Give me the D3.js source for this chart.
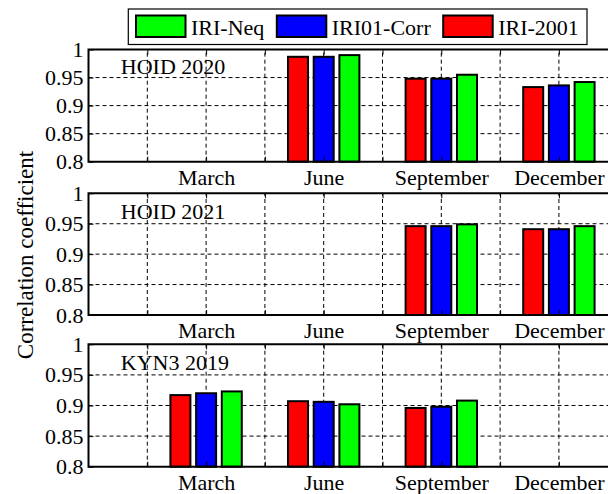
<!DOCTYPE html>
<html>
<head>
<meta charset="utf-8">
<script src="https://cdn.jsdelivr.net/npm/d3@7"></script>
<style>
  html, body { margin: 0; padding: 0; background: #fff; }
  svg { display: block; font-family: "Liberation Serif", "Times New Roman", serif; }
</style>
</head>
<body>
<svg id="chart" width="608" height="494"></svg>
<script>
// ---- data ----
const panelNames = ["HOID 2020", "HOID 2021", "KYN3 2019"];
const months = ["March", "June", "September", "December"];
const monthPositions = [2, 4, 6, 8];
const xGridValues = [1, 2, 3, 4, 5, 6, 7, 8];
const yTicks = [0.8, 0.85, 0.9, 0.95, 1];
const yTickLabels = ["0.8", "0.85", "0.9", "0.95", "1"];

// one row per panel, one value per month (null = no data)
const iri2001 = [
  [null, 0.987, 0.948, 0.933],
  [null, null, 0.946, 0.941],
  [0.917, 0.907, 0.896, null]
];
const iri01Corr = [
  [null, 0.987, 0.948, 0.936],
  [null, null, 0.946, 0.941],
  [0.920, 0.906, 0.898, null]
];
const iriNeq = [
  [null, 0.990, 0.955, 0.942],
  [null, null, 0.949, 0.946],
  [0.923, 0.902, 0.908, null]
];

const seriesNames = ["IRI-2001", "IRI01-Corr", "IRI-Neq"];
const seriesValues = [iri2001, iri01Corr, iriNeq];
const seriesColors = ["#ff0000", "#0000ff", "#00ff00"];
const legendOrder = [2, 1, 0];

// ---- layout ----
const svg = d3.select("#chart");
const FONT = 22;
const left = 88.5;
const unit = 58.8;
const panels = [
  { top: 49.5, bottom: 161.7 },
  { top: 193.3, bottom: 315 },
  { top: 344.3, bottom: 466.7 }
];
const x = d3.scaleLinear().domain([0, 9]).range([left, left + 9 * unit]);
const barOffset = 0.437;
const barWidth = 0.34;

panels.forEach((p, pi) => {
  const y = d3.scaleLinear().domain([0.8, 1]).range([p.bottom, p.top]);
  const g = svg.append("g");

  // dashed grid
  g.append("g").selectAll("line").data(xGridValues).join("line")
    .attr("x1", d => x(d)).attr("x2", d => x(d))
    .attr("y1", y(0.8)).attr("y2", y(1))
    .attr("stroke", "#000").attr("stroke-width", 1)
    .attr("stroke-dasharray", "4,3");
  g.append("g").selectAll("line").data(yTicks.slice(1, -1)).join("line")
    .attr("x1", x(0)).attr("x2", x(9))
    .attr("y1", d => y(d)).attr("y2", d => y(d))
    .attr("stroke", "#000").attr("stroke-width", 1)
    .attr("stroke-dasharray", "4,3");

  // bars
  seriesValues.forEach((vals, si) => {
    const rows = vals[pi].map((v, mi) => ({ v, pos: monthPositions[mi] })).filter(d => d.v !== null);
    g.append("g").selectAll("rect").data(rows).join("rect")
      .attr("x", d => x(d.pos + (si - 1) * barOffset - barWidth / 2))
      .attr("width", x(barWidth) - x(0))
      .attr("y", d => y(d.v))
      .attr("height", d => y(0.8) - y(d.v))
      .attr("fill", seriesColors[si])
      .attr("stroke", "#000").attr("stroke-width", 2);
  });

  // axes (inward ticks)
  const yAxis = d3.axisLeft(y).tickValues(yTicks).tickSizeInner(-5).tickSizeOuter(0)
    .tickFormat((d, i) => yTickLabels[i]).tickPadding(5);
  const yg = g.append("g").attr("transform", `translate(${left},0)`).call(yAxis);
  yg.select(".domain").remove();
  yg.selectAll("line").attr("stroke", "#000").attr("stroke-width", 1);
  yg.selectAll("text").attr("font-size", FONT).attr("font-family", "Liberation Serif").attr("fill", "#000");

  const xAxis = d3.axisBottom(x).tickValues(xGridValues).tickSizeInner(-5).tickSizeOuter(0)
    .tickFormat(d => { const i = monthPositions.indexOf(d); return i >= 0 ? months[i] : ""; })
    .tickPadding(7.5);
  const xg = g.append("g").attr("transform", `translate(0,${p.bottom})`).call(xAxis);
  xg.select(".domain").remove();
  xg.selectAll("line").attr("stroke", "#000").attr("stroke-width", 1);
  xg.selectAll("text").attr("font-size", FONT).attr("font-family", "Liberation Serif").attr("fill", "#000");

  const tg = g.append("g").attr("transform", `translate(0,${p.top})`)
    .call(d3.axisTop(x).tickValues(xGridValues).tickSizeInner(-5).tickSizeOuter(0).tickFormat(""));
  tg.select(".domain").remove();
  tg.selectAll("line").attr("stroke", "#000").attr("stroke-width", 1);

  // frame
  g.append("path")
    .attr("d", `M${x(9)},${p.top}H${x(0)}V${p.bottom}H${x(9)}`)
    .attr("fill", "none").attr("stroke", "#000").attr("stroke-width", 2);

  // panel title
  g.append("text")
    .attr("x", x(0.55)).attr("y", y(0.97))
    .attr("dominant-baseline", "central")
    .attr("font-size", FONT).attr("fill", "#000")
    .text(panelNames[pi]);
});

// y-axis title
svg.append("text")
  .attr("transform", "translate(33,255) rotate(-90)")
  .attr("text-anchor", "middle")
  .attr("font-size", 23).attr("fill", "#000")
  .text("Correlation coefficient");

// legend
const lg = svg.append("g");
lg.append("rect").attr("x", 128.3).attr("y", 9).attr("width", 458.7).attr("height", 35.5)
  .attr("fill", "#fff").attr("stroke", "#000").attr("stroke-width", 1.2);
const legendX = [136, 276.8, 443.2];
legendOrder.forEach((si, k) => {
  lg.append("rect").attr("x", legendX[k]).attr("y", 15.5).attr("width", 49.5).attr("height", 21.5)
    .attr("fill", seriesColors[si]).attr("stroke", "#000").attr("stroke-width", 2);
  lg.append("text").attr("x", legendX[k] + 55).attr("y", 27)
    .attr("dominant-baseline", "central")
    .attr("font-size", FONT).attr("fill", "#000")
    .text(seriesNames[si]);
});
</script>
</body>
</html>
